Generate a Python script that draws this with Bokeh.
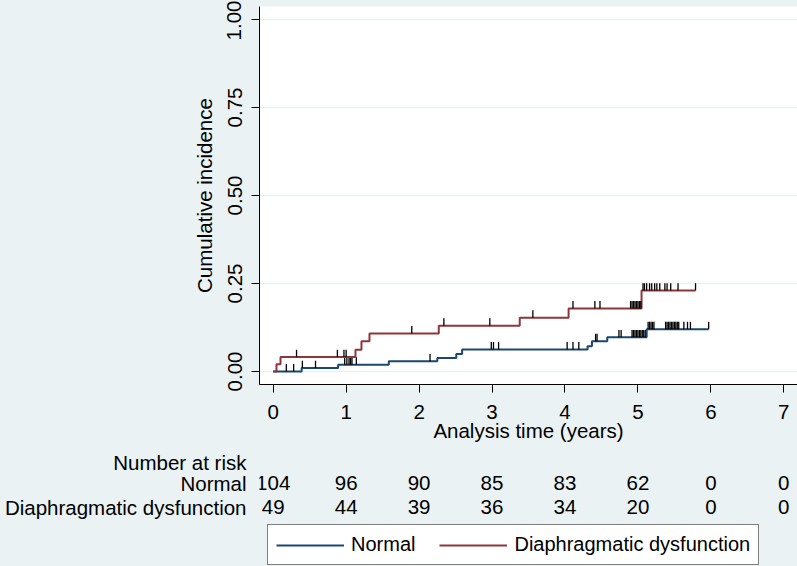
import numpy as np
from bokeh.plotting import figure
from bokeh.layouts import column
from bokeh.models import (Range1d, FixedTicker, NumeralTickFormatter, Legend, LegendItem)
from bokeh.core.properties import value
from bokeh.embed import file_html
from bokeh.resources import INLINE

# ---------------- data ----------------
# Normal group: event times (years) and cumulative incidence after each step
normal_times = [0.0, 0.39, 0.89, 1.585, 2.25, 2.51, 2.59, 4.31, 4.37, 4.58, 5.12]
normal_ci = [0.0, 0.0096, 0.0192, 0.0288, 0.0385, 0.050, 0.0625, 0.072, 0.086, 0.097, 0.120]
normal_end = 5.97
normal_censor = [0.18, 0.28, 0.40, 0.58, 0.98, 1.01, 1.04, 1.06, 1.08, 1.14, 2.15,
                 2.99, 3.02, 3.09, 4.03, 4.11, 4.19, 4.42, 4.44, 4.74, 4.77,
                 4.92, 4.94, 4.96, 4.98, 5.00, 5.02, 5.04, 5.06, 5.08, 5.10,
                 5.14, 5.16, 5.18, 5.20, 5.22,
                 5.38, 5.40, 5.42, 5.44, 5.46, 5.48, 5.50, 5.52, 5.54, 5.56, 5.63,
                 5.68, 5.72, 5.97]

# Diaphragmatic dysfunction group
dd_times = [0.0, 0.045, 0.10, 1.128, 1.21, 1.32, 2.27, 3.38, 4.05, 5.05]
dd_ci = [0.0, 0.0204, 0.041, 0.0616, 0.086, 0.108, 0.130, 0.153, 0.179, 0.230]
dd_end = 5.79
dd_censor = [0.32, 0.88, 0.97, 1.00, 1.90, 2.34, 2.97, 3.56, 4.11, 4.41, 4.48,
             4.90, 4.92, 4.94, 4.96, 4.98, 5.00, 5.02, 5.04,
             5.07, 5.09, 5.12, 5.16, 5.19, 5.23, 5.26, 5.30, 5.37, 5.40, 5.45,
             5.55, 5.79]

# x / y ticks
x_ticks = [0, 1, 2, 3, 4, 5, 6, 7]
y_ticks = [0.0, 0.25, 0.50, 0.75, 1.00]

# Number at risk table
risk_times = [0, 1, 2, 3, 4, 5, 6, 7]
risk_normal = [104, 96, 90, 85, 83, 62, 0, 0]
risk_dd = [49, 44, 39, 36, 34, 20, 0, 0]
group_names = ["Normal", "Diaphragmatic dysfunction"]
risk_title = "Number at risk"

# ---------------- style ----------------
BG = "#EAF2F3"
BLUE = "#1a476f"
RED = "#90353b"
FONT = "Liberation Sans"
FS = "20.5px"

W = 797
TOP_H = 450
BOT_H = 116
PX_PER_YEAR = 72.94
X0_PX = 272.7          # pixel of t = 0
FRAME_L = 259
FRAME_B = 384          # pixel of frame bottom (top figure)
Y0_PX = 371.0          # pixel of y = 0
PX_PER_UNIT = 352.0
FRAME_T = 6

x_start = (FRAME_L - X0_PX) / PX_PER_YEAR
x_end = (W - X0_PX) / PX_PER_YEAR
y_start = -(FRAME_B - Y0_PX) / PX_PER_UNIT
y_end = (Y0_PX - FRAME_T) / PX_PER_UNIT

p = figure(width=W, height=TOP_H, output_backend="svg", toolbar_location=None,
           x_range=Range1d(x_start, x_end), y_range=Range1d(y_start, y_end),
           min_border_left=FRAME_L, min_border_right=0, min_border_top=FRAME_T,
           min_border_bottom=TOP_H - FRAME_B)
p.background_fill_color = "white"
p.border_fill_color = BG
p.outline_line_color = None

for ax in (p.xaxis[0], p.yaxis[0]):
    ax.axis_line_color = "black"
    ax.axis_line_width = 1
    ax.major_tick_line_color = "black"
    ax.major_tick_out = 8
    ax.major_tick_in = 0
    ax.minor_tick_line_color = None
    ax.major_label_text_font = FONT
    ax.major_label_text_font_size = FS
    ax.major_label_text_color = "black"
    ax.axis_label_text_font = FONT
    ax.axis_label_text_font_size = FS
    ax.axis_label_text_font_style = "normal"
    ax.axis_label_text_color = "black"

p.xaxis.ticker = FixedTicker(ticks=x_ticks)
p.xaxis.major_label_standoff = 12
p.xaxis.axis_label = "Analysis time (years)"
p.xaxis.axis_label_standoff = -3

p.yaxis.ticker = FixedTicker(ticks=y_ticks)
p.yaxis.formatter = NumeralTickFormatter(format="0.00")
p.yaxis.major_label_orientation = "parallel"
p.yaxis.major_label_standoff = 10
p.yaxis.axis_label = "Cumulative incidence"
p.yaxis.axis_label_standoff = 9

p.xgrid.visible = False
p.ygrid.grid_line_color = BG
p.ygrid.grid_line_width = 1.5


def draw_group(times, ci, end, censor, color):
    xs = list(times) + [end]
    ys = list(ci) + [ci[-1]]
    p.step(xs, ys, mode="after", line_color=color, line_width=2)
    t = np.asarray(times)
    c = np.asarray(ci)
    ct = np.asarray(censor)
    idx = np.searchsorted(t, ct, side="right") - 1
    lvl = c[idx]
    p.segment(x0=ct, y0=lvl, x1=ct, y1=lvl + 0.021, line_color="black", line_width=1.3)


draw_group(normal_times, normal_ci, normal_end, normal_censor, BLUE)
draw_group(dd_times, dd_ci, dd_end, dd_censor, RED)

# ---------------- bottom panel: number-at-risk table and legend ----------------
# y in this panel = pixels from the panel's top
row_y = [7.5, 32.5, 56.5]
q = figure(width=W, height=BOT_H, output_backend="svg", toolbar_location=None,
           x_range=Range1d(x_start, x_end), y_range=Range1d(BOT_H, 0),
           x_axis_location=None, min_border=0, min_border_left=FRAME_L,
           min_border_right=0)
q.background_fill_color = BG
q.border_fill_color = BG
q.outline_line_color = None
q.grid.visible = False

ya = q.yaxis[0]
ya.ticker = FixedTicker(ticks=row_y)
ya.major_label_overrides = {row_y[0]: risk_title, row_y[1]: group_names[0],
                            row_y[2]: group_names[1]}
ya.axis_line_color = None
ya.major_tick_line_color = None
ya.minor_tick_line_color = None
ya.major_tick_out = 0
ya.major_tick_in = 0
ya.major_label_standoff = 13
ya.major_label_text_font = FONT
ya.major_label_text_font_size = FS
ya.major_label_text_color = "black"

txt = dict(text_font=value(FONT), text_font_size=value(FS), text_color="black",
           text_baseline="middle", text_align="center")
q.text(x=risk_times, y=[row_y[1]] * len(risk_times), text=[str(v) for v in risk_normal], **txt)
q.text(x=risk_times, y=[row_y[2]] * len(risk_times), text=[str(v) for v in risk_dd], **txt)

# renderers outside the visible range, used only for the legend glyphs
r_n = q.line(x=[-10, -9], y=[-500, -500], line_color=BLUE, line_width=2)
r_d = q.line(x=[-10, -9], y=[-500, -500], line_color=RED, line_width=2)
legend = Legend(items=[LegendItem(label=group_names[0], renderers=[r_n]),
                       LegendItem(label=group_names[1], renderers=[r_d])],
                orientation="horizontal", location=(8, 1),
                glyph_width=68, glyph_height=20, label_standoff=7, spacing=24,
                padding=8, margin=0, border_line_color="black", border_line_width=1,
                background_fill_color="white", background_fill_alpha=1.0,
                label_text_font=FONT, label_text_font_size="20px", label_text_color="black",
                label_height=22)
q.add_layout(legend)

layout = column(p, q, spacing=0, styles={"background-color": BG})
open("out.html", "w").write(file_html(layout, INLINE))
